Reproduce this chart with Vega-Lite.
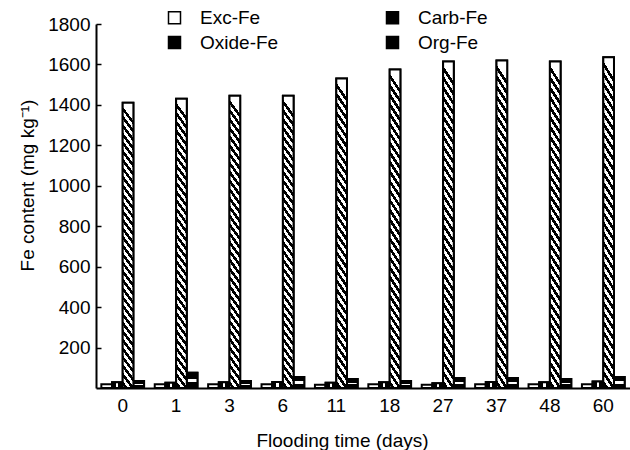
{
  "$schema": "https://vega.github.io/schema/vega-lite/v6.json",
  "width": 534,
  "height": 364,
  "autosize": {"type": "none"},
  "padding": {"left": 96, "top": 24, "right": 0, "bottom": 62},
  "background": "white",
  "config": {"view": {"stroke": null}, "font": "Liberation Sans"},
  "data": {
    "values": [
      {"day": "0", "type": "Exc-Fe", "value": 18}, {"day": "0", "type": "Carb-Fe", "value": 28}, {"day": "0", "type": "Oxide-Fe", "value": 1410}, {"day": "0", "type": "Org-Fe", "value": 35},
      {"day": "1", "type": "Exc-Fe", "value": 18}, {"day": "1", "type": "Carb-Fe", "value": 26}, {"day": "1", "type": "Oxide-Fe", "value": 1430}, {"day": "1", "type": "Org-Fe", "value": 75},
      {"day": "3", "type": "Exc-Fe", "value": 18}, {"day": "3", "type": "Carb-Fe", "value": 28}, {"day": "3", "type": "Oxide-Fe", "value": 1445}, {"day": "3", "type": "Org-Fe", "value": 35},
      {"day": "6", "type": "Exc-Fe", "value": 18}, {"day": "6", "type": "Carb-Fe", "value": 30}, {"day": "6", "type": "Oxide-Fe", "value": 1445}, {"day": "6", "type": "Org-Fe", "value": 55},
      {"day": "11", "type": "Exc-Fe", "value": 16}, {"day": "11", "type": "Carb-Fe", "value": 26}, {"day": "11", "type": "Oxide-Fe", "value": 1530}, {"day": "11", "type": "Org-Fe", "value": 45},
      {"day": "18", "type": "Exc-Fe", "value": 18}, {"day": "18", "type": "Carb-Fe", "value": 28}, {"day": "18", "type": "Oxide-Fe", "value": 1575}, {"day": "18", "type": "Org-Fe", "value": 35},
      {"day": "27", "type": "Exc-Fe", "value": 16}, {"day": "27", "type": "Carb-Fe", "value": 24}, {"day": "27", "type": "Oxide-Fe", "value": 1615}, {"day": "27", "type": "Org-Fe", "value": 50},
      {"day": "37", "type": "Exc-Fe", "value": 18}, {"day": "37", "type": "Carb-Fe", "value": 30}, {"day": "37", "type": "Oxide-Fe", "value": 1620}, {"day": "37", "type": "Org-Fe", "value": 50},
      {"day": "48", "type": "Exc-Fe", "value": 18}, {"day": "48", "type": "Carb-Fe", "value": 28}, {"day": "48", "type": "Oxide-Fe", "value": 1615}, {"day": "48", "type": "Org-Fe", "value": 45},
      {"day": "60", "type": "Exc-Fe", "value": 18}, {"day": "60", "type": "Carb-Fe", "value": 32}, {"day": "60", "type": "Oxide-Fe", "value": 1635}, {"day": "60", "type": "Org-Fe", "value": 55}
    ]
  },
  "encoding": {
    "x": {
      "field": "day", "type": "nominal",
      "sort": ["0", "1", "3", "6", "11", "18", "27", "37", "48", "60"],
      "scale": {"paddingInner": 0.2, "paddingOuter": 0.1},
      "axis": {
        "title": "Flooding time (days)", "labelAngle": 0, "ticks": false,
        "domainColor": "black", "domainWidth": 2,
        "labelFontSize": 19, "labelColor": "black", "labelPadding": 8,
        "titleFontSize": 19, "titleFontWeight": "normal", "titleColor": "black",
        "titleX": 246, "titleY": 52, "titleBaseline": "middle"
      }
    },
    "xOffset": {
      "field": "type", "type": "nominal",
      "scale": {"domain": ["Exc-Fe", "Carb-Fe", "Oxide-Fe", "Org-Fe"], "paddingInner": 0, "paddingOuter": 0}
    },
    "y": {
      "field": "value", "type": "quantitative",
      "scale": {"domain": [0, 1800], "nice": false},
      "axis": {
        "title": "Fe content (mg kg⁻¹)", "format": "d",
        "values": [200, 400, 600, 800, 1000, 1200, 1400, 1600, 1800],
        "grid": false, "domainColor": "black", "domainWidth": 2,
        "tickColor": "black", "tickSize": -5, "tickWidth": 1.5,
        "labelFontSize": 19, "labelColor": "black", "labelPadding": 11,
        "titleFontSize": 19, "titleFontWeight": "normal", "titleColor": "black",
        "titleX": -69, "titleY": 161, "titleBaseline": "middle"
      }
    }
  },
  "layer": [
    {
      "mark": {"type": "bar", "stroke": "black", "strokeWidth": 2},
      "encoding": {
        "fill": {
          "field": "type", "type": "nominal",
          "scale": {"domain": ["Exc-Fe", "Carb-Fe", "Oxide-Fe", "Org-Fe"], "range": ["white", "black", "black", "black"]},
          "legend": {
            "orient": "none", "legendX": 69, "legendY": -16, "columns": 2, "direction": "horizontal",
            "title": null, "symbolType": "square", "symbolSize": 144,
            "labelFontSize": 19, "labelColor": "black", "labelOffset": 16,
            "columnPadding": 104, "rowPadding": 5, "padding": 0,
            "encode": {
              "symbols": {
                "update": {
                  "shape": {"signal": "datum.value === 'Exc-Fe' ? 'M-1,-1H1V1H-1ZM-0.6,-0.6V0.6H0.6V-0.6Z' : datum.value === 'Carb-Fe' ? 'M-1,-1H1V1H-1ZM-0.17,-0.65V0.65H0.17V-0.65Z' : datum.value === 'Oxide-Fe' ? 'M-1,-1H1V1H-1ZM-0.65,-0.35L0.35,0.65L0.65,0.35L-0.35,-0.65Z' : 'M-1,-1H1V1H-1ZM-0.15,-0.65L-0.15,-0.15L-0.65,-0.15L-0.65,0.15L-0.15,0.15L-0.15,0.65L0.15,0.65L0.15,0.15L0.65,0.15L0.65,-0.15L0.15,-0.15L0.15,-0.65Z'"},
                  "size": {"value": 144},
                  "fill": {"value": "black"},
                  "fillOpacity": {"value": 1},
                  "opacity": {"value": 1},
                  "strokeWidth": {"value": 0}
                }
              }
            }
          }
        }
      }
    },
    {
      "transform": [{"filter": "datum.type === 'Carb-Fe'"}],
      "mark": {"type": "bar", "stroke": "black", "strokeWidth": 2,
        "fill": {"gradient": "linear", "x1": 0, "y1": 0, "x2": 1, "y2": 0, "stops": [
          {"offset": 0, "color": "#000"}, {"offset": 0.4, "color": "#000"}, {"offset": 0.4, "color": "#fff"}, {"offset": 0.6, "color": "#fff"}, {"offset": 0.6, "color": "#000"}, {"offset": 1, "color": "#000"}]}}
    },
    {
      "transform": [{"filter": "datum.type === 'Org-Fe'"}],
      "mark": {"type": "bar", "stroke": "black", "strokeWidth": 2,
        "fill": {"gradient": "linear", "x1": 0, "y1": 0, "x2": 0, "y2": 1, "stops": [
          {"offset": 0, "color": "#000"}, {"offset": 0.4, "color": "#000"}, {"offset": 0.4, "color": "#fff"}, {"offset": 0.6, "color": "#fff"}, {"offset": 0.6, "color": "#000"}, {"offset": 1, "color": "#000"}]}}
    },
    {
      "transform": [{"filter": "datum.type === 'Oxide-Fe'"}],
      "mark": {"type": "bar", "stroke": "black", "strokeWidth": 2,
        "fill": {"gradient": "linear", "x1": 0.05, "y1": 0, "x2": 0, "y2": 1, "stops": [
            {"offset": 0, "color": "#fff"}, {"offset": 0.015, "color": "#fff"}, {"offset": 0.015, "color": "#000"}, {"offset": 0.03, "color": "#000"},
            {"offset": 0.03, "color": "#fff"}, {"offset": 0.045, "color": "#fff"}, {"offset": 0.045, "color": "#000"}, {"offset": 0.06, "color": "#000"},
            {"offset": 0.06, "color": "#fff"}, {"offset": 0.075, "color": "#fff"}, {"offset": 0.075, "color": "#000"}, {"offset": 0.09, "color": "#000"},
            {"offset": 0.09, "color": "#fff"}, {"offset": 0.105, "color": "#fff"}, {"offset": 0.105, "color": "#000"}, {"offset": 0.12, "color": "#000"},
            {"offset": 0.12, "color": "#fff"}, {"offset": 0.135, "color": "#fff"}, {"offset": 0.135, "color": "#000"}, {"offset": 0.15, "color": "#000"},
            {"offset": 0.15, "color": "#fff"}, {"offset": 0.165, "color": "#fff"}, {"offset": 0.165, "color": "#000"}, {"offset": 0.18, "color": "#000"},
            {"offset": 0.18, "color": "#fff"}, {"offset": 0.195, "color": "#fff"}, {"offset": 0.195, "color": "#000"}, {"offset": 0.21, "color": "#000"},
            {"offset": 0.21, "color": "#fff"}, {"offset": 0.225, "color": "#fff"}, {"offset": 0.225, "color": "#000"}, {"offset": 0.24, "color": "#000"},
            {"offset": 0.24, "color": "#fff"}, {"offset": 0.255, "color": "#fff"}, {"offset": 0.255, "color": "#000"}, {"offset": 0.27, "color": "#000"},
            {"offset": 0.27, "color": "#fff"}, {"offset": 0.285, "color": "#fff"}, {"offset": 0.285, "color": "#000"}, {"offset": 0.30, "color": "#000"},
            {"offset": 0.30, "color": "#fff"}, {"offset": 0.315, "color": "#fff"}, {"offset": 0.315, "color": "#000"}, {"offset": 0.33, "color": "#000"},
            {"offset": 0.33, "color": "#fff"}, {"offset": 0.345, "color": "#fff"}, {"offset": 0.345, "color": "#000"}, {"offset": 0.36, "color": "#000"},
            {"offset": 0.36, "color": "#fff"}, {"offset": 0.375, "color": "#fff"}, {"offset": 0.375, "color": "#000"}, {"offset": 0.39, "color": "#000"},
            {"offset": 0.39, "color": "#fff"}, {"offset": 0.405, "color": "#fff"}, {"offset": 0.405, "color": "#000"}, {"offset": 0.42, "color": "#000"},
            {"offset": 0.42, "color": "#fff"}, {"offset": 0.435, "color": "#fff"}, {"offset": 0.435, "color": "#000"}, {"offset": 0.45, "color": "#000"},
            {"offset": 0.45, "color": "#fff"}, {"offset": 0.465, "color": "#fff"}, {"offset": 0.465, "color": "#000"}, {"offset": 0.48, "color": "#000"},
            {"offset": 0.48, "color": "#fff"}, {"offset": 0.495, "color": "#fff"}, {"offset": 0.495, "color": "#000"}, {"offset": 0.51, "color": "#000"},
            {"offset": 0.51, "color": "#fff"}, {"offset": 0.525, "color": "#fff"}, {"offset": 0.525, "color": "#000"}, {"offset": 0.54, "color": "#000"},
            {"offset": 0.54, "color": "#fff"}, {"offset": 0.555, "color": "#fff"}, {"offset": 0.555, "color": "#000"}, {"offset": 0.57, "color": "#000"},
            {"offset": 0.57, "color": "#fff"}, {"offset": 0.585, "color": "#fff"}, {"offset": 0.585, "color": "#000"}, {"offset": 0.60, "color": "#000"},
            {"offset": 0.60, "color": "#fff"}, {"offset": 0.615, "color": "#fff"}, {"offset": 0.615, "color": "#000"}, {"offset": 0.63, "color": "#000"},
            {"offset": 0.63, "color": "#fff"}, {"offset": 0.645, "color": "#fff"}, {"offset": 0.645, "color": "#000"}, {"offset": 0.66, "color": "#000"},
            {"offset": 0.66, "color": "#fff"}, {"offset": 0.675, "color": "#fff"}, {"offset": 0.675, "color": "#000"}, {"offset": 0.69, "color": "#000"},
            {"offset": 0.69, "color": "#fff"}, {"offset": 0.705, "color": "#fff"}, {"offset": 0.705, "color": "#000"}, {"offset": 0.72, "color": "#000"},
            {"offset": 0.72, "color": "#fff"}, {"offset": 0.735, "color": "#fff"}, {"offset": 0.735, "color": "#000"}, {"offset": 0.75, "color": "#000"},
            {"offset": 0.75, "color": "#fff"}, {"offset": 0.765, "color": "#fff"}, {"offset": 0.765, "color": "#000"}, {"offset": 0.78, "color": "#000"},
            {"offset": 0.78, "color": "#fff"}, {"offset": 0.795, "color": "#fff"}, {"offset": 0.795, "color": "#000"}, {"offset": 0.81, "color": "#000"},
            {"offset": 0.81, "color": "#fff"}, {"offset": 0.825, "color": "#fff"}, {"offset": 0.825, "color": "#000"}, {"offset": 0.84, "color": "#000"},
            {"offset": 0.84, "color": "#fff"}, {"offset": 0.855, "color": "#fff"}, {"offset": 0.855, "color": "#000"}, {"offset": 0.87, "color": "#000"},
            {"offset": 0.87, "color": "#fff"}, {"offset": 0.885, "color": "#fff"}, {"offset": 0.885, "color": "#000"}, {"offset": 0.90, "color": "#000"},
            {"offset": 0.90, "color": "#fff"}, {"offset": 0.915, "color": "#fff"}, {"offset": 0.915, "color": "#000"}, {"offset": 0.93, "color": "#000"},
            {"offset": 0.93, "color": "#fff"}, {"offset": 0.945, "color": "#fff"}, {"offset": 0.945, "color": "#000"}, {"offset": 0.96, "color": "#000"},
            {"offset": 0.96, "color": "#fff"}, {"offset": 0.975, "color": "#fff"}, {"offset": 0.975, "color": "#000"}, {"offset": 0.99, "color": "#000"},
            {"offset": 0.99, "color": "#fff"}, {"offset": 1, "color": "#fff"}]}}
    }
  ]
}
